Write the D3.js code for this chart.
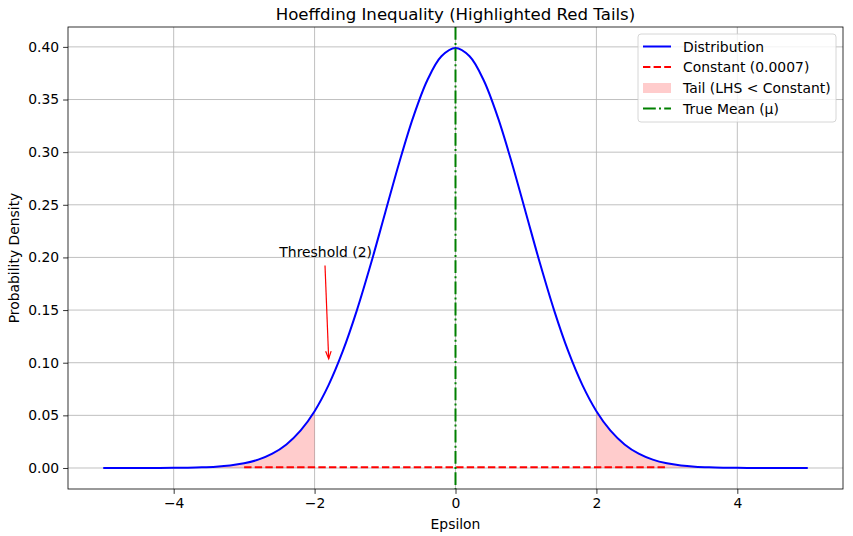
<!DOCTYPE html>
<html><head><meta charset="utf-8">
<script src="https://cdn.jsdelivr.net/npm/d3@7"></script>
<style>body{margin:0;background:#fff}svg{font-family:"DejaVu Sans",sans-serif}</style>
</head><body><svg id="c" width="853" height="536"></svg>
<script>
const xs = [-5,-4.8,-4.6,-4.4,-4.2,-4,-3.8,-3.6,-3.4,-3.2,-3,-2.8,-2.6,-2.4,-2.2,-2,-1.8,-1.6,-1.4,-1.2,-1,-0.8,-0.6,-0.4,-0.2,0,0.2,0.4,0.6,0.8,1,1.2,1.4,1.6,1.8,2,2.2,2.4,2.6,2.8,3,3.2,3.4,3.6,3.8,4,4.2,4.4,4.6,4.8,5];
const half = [0.39894,0.39104,0.36827,0.33322,0.28969,0.24197,0.19419,0.14973,0.11092,0.07895,0.05399,0.03547,0.02239,0.01358,0.00792,0.00443,0.00238,0.00123,0.00061,0.00029,0.000134,0.0000589,0.0000249,0.0000101,0.0000040,0.0000015];
const density = half.slice(1).reverse().concat(half);
const constantValue = 0.0007;
const constantRange = [-3, 3];
const threshold = 2;
const trueMean = 0;
const xTicks = [-4,-2,0,2,4];
const yTicks = [0,0.05,0.10,0.15,0.20,0.25,0.30,0.35,0.40];
const legendLabels = ["Distribution","Constant (0.0007)","Tail (LHS < Constant)","True Mean (μ)"];
const annotation = {text:"Threshold (2)", tx:-2.5, ty:0.2, ax:-1.8, ay:0.1};

const pts = xs.map((x,i)=>({x, y:density[i]}));
const svg = d3.select("#c");
const L=68, R=843, T=27, B=489;
const x = d3.scaleLinear().domain([-5.5,5.5]).range([L,R]);
const y = d3.scaleLinear().domain([-0.01995,0.41888]).range([B,T]);
const fs = 13.9;
const DASH = "7.4,3.2", DASHDOT = "12.8,3.2,2,3.2";

// grid
const g = svg.append("g");
g.selectAll(".gx").data(xTicks).join("line").attr("x1",d=>x(d)).attr("x2",d=>x(d)).attr("y1",T).attr("y2",B).attr("stroke","#b0b0b0").attr("stroke-width",0.8);
g.selectAll(".gy").data(yTicks).join("line").attr("y1",d=>y(d)).attr("y2",d=>y(d)).attr("x1",L).attr("x2",R).attr("stroke","#b0b0b0").attr("stroke-width",0.8);

svg.append("defs").append("clipPath").attr("id","clip").append("rect").attr("x",L).attr("y",T).attr("width",R-L).attr("height",B-T);
const plot = svg.append("g").attr("clip-path","url(#clip)");

const curve = d3.curveCatmullRom.alpha(0.5);
const area = d3.area().x(d=>x(d.x)).y0(y(0)).y1(d=>y(d.y)).curve(curve);
plot.append("path").attr("d",area(pts.filter(d=>d.x<=-threshold))).attr("fill","red").attr("fill-opacity",0.2);
plot.append("path").attr("d",area(pts.filter(d=>d.x>=threshold))).attr("fill","red").attr("fill-opacity",0.2);

plot.append("line").attr("x1",x(constantRange[0])).attr("x2",x(constantRange[1])).attr("y1",y(constantValue)).attr("y2",y(constantValue))
  .attr("stroke","red").attr("stroke-width",2).attr("stroke-dasharray",DASH);

const line = d3.line().x(d=>x(d.x)).y(d=>y(d.y)).curve(curve);
plot.append("path").attr("d",line(pts)).attr("fill","none").attr("stroke","blue").attr("stroke-width",2);

plot.append("line").attr("x1",x(trueMean)).attr("x2",x(trueMean)).attr("y1",T).attr("y2",B)
  .attr("stroke","green").attr("stroke-width",2).attr("stroke-dasharray",DASHDOT);

// annotation
svg.append("text").attr("x",x(annotation.tx)).attr("y",y(annotation.ty)).attr("font-size",fs).text(annotation.text);
const ax0 = 325, ay0 = y(annotation.ty)+8;
const ax1 = x(annotation.ax), ay1 = y(annotation.ay)-4;
svg.append("line").attr("x1",ax0).attr("y1",ay0).attr("x2",ax1).attr("y2",ay1).attr("stroke","red").attr("stroke-width",1.2);
{
  const ang = Math.atan2(ay1-ay0, ax1-ax0), hl=8, hw=0.35;
  const p1=[ax1-hl*Math.cos(ang-hw), ay1-hl*Math.sin(ang-hw)];
  const p2=[ax1-hl*Math.cos(ang+hw), ay1-hl*Math.sin(ang+hw)];
  svg.append("path").attr("d",`M${p1}L${ax1},${ay1}L${p2}`).attr("fill","none").attr("stroke","red").attr("stroke-width",1.2);
}

// axes
const xa = svg.append("g").attr("transform",`translate(0,${B})`).call(d3.axisBottom(x).tickValues(xTicks).tickSize(4.9).tickPadding(4).tickFormat(d=>String(d).replace("-","\u2212")));
const ya = svg.append("g").attr("transform",`translate(${L},0)`).call(d3.axisLeft(y).tickValues(yTicks).tickSize(4.9).tickPadding(4).tickFormat(d3.format(".2f")));
[xa,ya].forEach(a=>{a.selectAll("text").attr("font-size",fs).attr("font-family","DejaVu Sans").attr("fill","#000");a.selectAll("line").attr("stroke","#000").attr("stroke-width",0.8);a.select(".domain").remove();});
svg.append("rect").attr("x",L).attr("y",T).attr("width",R-L).attr("height",B-T).attr("fill","none").attr("stroke","#000").attr("stroke-width",0.8);

svg.append("text").attr("x",(L+R)/2).attr("y",20).attr("text-anchor","middle").attr("font-size",16.6).text("Hoeffding Inequality (Highlighted Red Tails)");
svg.append("text").attr("x",(L+R)/2).attr("y",529).attr("text-anchor","middle").attr("font-size",fs).text("Epsilon");
svg.append("text").attr("transform",`translate(19,${(T+B)/2}) rotate(-90)`).attr("text-anchor","middle").attr("font-size",fs).text("Probability Density");

// legend
const lg = svg.append("g").attr("transform","translate(638,34)");
lg.append("rect").attr("x",0).attr("y",0).attr("width",198).attr("height",88).attr("rx",3).attr("fill","#fff").attr("fill-opacity",0.8).attr("stroke","#ccc").attr("stroke-width",0.8);
const rows = [12.5,33,54,74.5];
legendLabels.forEach((t,i)=>{
  const yy = rows[i];
  if(i===0) lg.append("line").attr("x1",5).attr("x2",33).attr("y1",yy).attr("y2",yy).attr("stroke","blue").attr("stroke-width",2);
  if(i===1) lg.append("line").attr("x1",5).attr("x2",33).attr("y1",yy).attr("y2",yy).attr("stroke","red").attr("stroke-width",2).attr("stroke-dasharray",DASH);
  if(i===2) lg.append("rect").attr("x",5).attr("y",yy-5).attr("width",28).attr("height",10).attr("fill","red").attr("fill-opacity",0.2);
  if(i===3) lg.append("line").attr("x1",5).attr("x2",33).attr("y1",yy).attr("y2",yy).attr("stroke","green").attr("stroke-width",2).attr("stroke-dasharray",DASHDOT);
  lg.append("text").attr("x",45).attr("y",yy+5).attr("font-size",fs).text(t);
});
</script></body></html>
